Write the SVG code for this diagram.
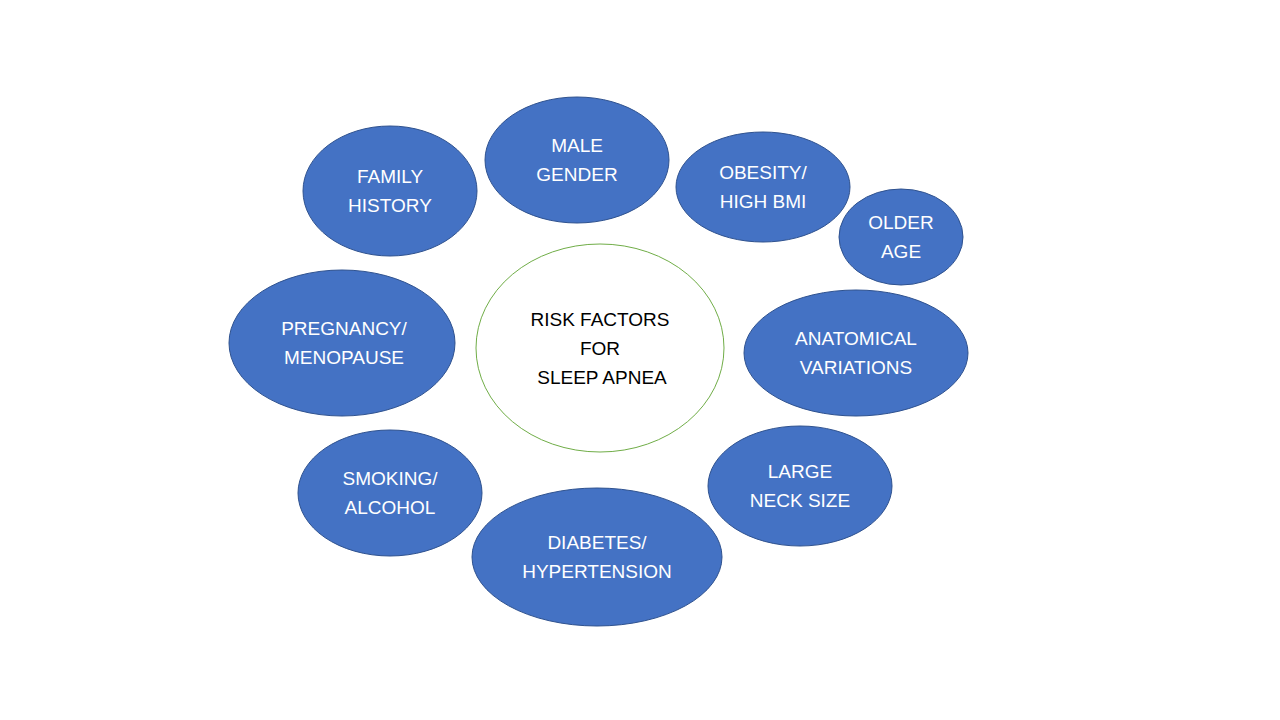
<svg xmlns="http://www.w3.org/2000/svg" width="1280" height="720" viewBox="0 0 1280 720">
<style>
.n{fill:#4472C4;stroke:#2F528F;stroke-width:1}
.t{font-family:"Liberation Sans","Open Sans",sans-serif;font-size:19px;fill:#fff;text-anchor:middle}
.c{font-family:"Liberation Sans","Open Sans",sans-serif;font-size:19px;fill:#000;text-anchor:middle}
</style>
<rect width="1280" height="720" fill="#fff"/>
<g id="center"><ellipse cx="600" cy="348" rx="124" ry="104" fill="#fff" stroke="#70AD47" stroke-width="1"/>
<text class="c" x="600" y="326">RISK FACTORS</text><text class="c" x="600" y="355">FOR</text><text class="c" x="602" y="384">SLEEP APNEA</text></g>
<g id="family"><ellipse class="n" cx="390" cy="191" rx="87" ry="65"/><text class="t" x="390" y="183">FAMILY</text><text class="t" x="390" y="212">HISTORY</text></g>
<g id="male"><ellipse class="n" cx="577" cy="160" rx="92" ry="63"/><text class="t" x="577" y="152">MALE</text><text class="t" x="577" y="181">GENDER</text></g>
<g id="obesity"><ellipse class="n" cx="763" cy="187" rx="87" ry="55"/><text class="t" x="763" y="179">OBESITY/</text><text class="t" x="763" y="208">HIGH BMI</text></g>
<g id="older"><ellipse class="n" cx="901" cy="237" rx="62" ry="48"/><text class="t" x="901" y="229">OLDER</text><text class="t" x="901" y="258">AGE</text></g>
<g id="pregnancy"><ellipse class="n" cx="342" cy="343" rx="113" ry="73"/><text class="t" x="344" y="335">PREGNANCY/</text><text class="t" x="344" y="364">MENOPAUSE</text></g>
<g id="anatomical"><ellipse class="n" cx="856" cy="353" rx="112" ry="63"/><text class="t" x="856" y="345">ANATOMICAL</text><text class="t" x="856" y="374">VARIATIONS</text></g>
<g id="smoking"><ellipse class="n" cx="390" cy="493" rx="92" ry="63"/><text class="t" x="390" y="485">SMOKING/</text><text class="t" x="390" y="514">ALCOHOL</text></g>
<g id="neck"><ellipse class="n" cx="800" cy="486" rx="92" ry="60"/><text class="t" x="800" y="478">LARGE</text><text class="t" x="800" y="507">NECK SIZE</text></g>
<g id="diabetes"><ellipse class="n" cx="597" cy="557" rx="125" ry="69"/><text class="t" x="597" y="549">DIABETES/</text><text class="t" x="597" y="578">HYPERTENSION</text></g>
<g id="connectors"></g>
</svg>
